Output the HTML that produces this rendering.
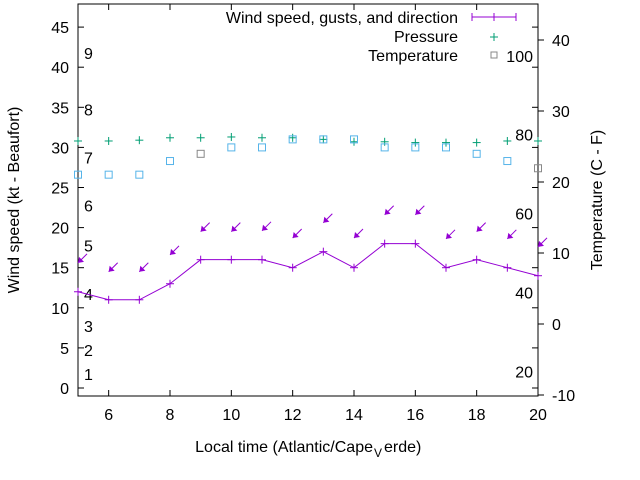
<!DOCTYPE html>
<html><head><meta charset="utf-8"><style>
body{margin:0;background:#fff}
svg{display:block;font-family:"Liberation Sans",sans-serif}
</style></head><body>
<svg id="c" width="640" height="480"></svg>
<script>
const hours=[5,6,7,8,9,10,11,12,13,14,15,16,17,18,19,20];
const windSpeed=[12,11,11,13,16,16,16,15,17,15,18,18,15,16,15,14];
const gusts=[15.6,14.5,14.5,16.6,19.5,19.5,19.6,18.7,20.6,18.7,21.6,21.6,18.6,19.5,18.6,17.6];
const pressure=[30.8,30.8,30.9,31.2,31.2,31.3,31.2,31.2,31.0,30.7,30.7,30.6,30.6,30.6,30.8,30.8];
const temperature=[26.6,26.6,26.6,28.3,29.2,30.0,30.0,31.0,31.0,31.0,30.0,30.0,30.0,29.2,28.3,27.4];
const leftTicks=[0,5,10,15,20,25,30,35,40,45];
const rightTicks=[-10,0,10,20,30,40];
const xTicks=[6,8,10,12,14,16,18,20];
const beaufort=[[1,1],[2,4],[3,7],[4,11],[5,17],[6,22],[7,28],[8,34],[9,41]];
const fahr=[20,40,60,80,100];
const L=78,R=538,T=4,B=396;
const X=v=>L+(v-5)/15*(R-L);
const Y=v=>388-v*8.02;
const YR=v=>324-v*7.1;
const svg=document.getElementById('c');
const NS='http://www.w3.org/2000/svg';
function mk(tag,at,parent){const e=document.createElementNS(NS,tag);for(const k in at)e.setAttribute(k,at[k]);(parent||svg).appendChild(e);return e;}
function txt(x,y,s,anchor,name,size){const t=mk('text',{x:x,y:y,'font-size':size||16,'text-anchor':anchor||'start',fill:'#000'});t.textContent=s;


return t;}
const fr=mk('rect',{x:L,y:T,width:R-L,height:B-T,fill:'none',stroke:'#000','stroke-width':1});


leftTicks.forEach(v=>{const y=Y(v);mk('line',{x1:L,x2:L+6,y1:y,y2:y,stroke:'#000'});mk('line',{x1:R,x2:R-6,y1:y,y2:y,stroke:'#000'});txt(L-9,y+6,String(v),'end','left-tick-label');});
rightTicks.forEach(v=>{const y=YR(v);mk('line',{x1:R,x2:R+6,y1:y,y2:y,stroke:'#000'});txt(552,y+6,String(v),'start','right-tick-label');});
xTicks.forEach(v=>{const x=X(v);mk('line',{x1:x,x2:x,y1:B,y2:B-6,stroke:'#000'});mk('line',{x1:x,x2:x,y1:T,y2:T+6,stroke:'#000'});txt(x,B+24,String(v),'middle','x-tick-label');});
beaufort.forEach(b=>txt(84,Y(b[1]),String(b[0]),'start','beaufort-label'));
fahr.forEach(f=>txt(533,YR((f-32)*5/9)+6,String(f),'end','fahrenheit-label'));
txt(373,452,'Local time (Atlantic/Cape','end','x-axis-title');
txt(374,457,'V','start','x-axis-title-sub',12);
txt(384,452,'erde)','start','x-axis-title-end');
const yl=txt(0,0,'Wind speed (kt - Beaufort)','middle','y-axis-title');yl.setAttribute('transform','translate(19,200) rotate(-90)');
const yr=txt(0,0,'Temperature (C - F)','middle','y2-axis-title');yr.setAttribute('transform','translate(602,200) rotate(-90)');
const pts=hours.map((h,i)=>X(h)+','+Y(windSpeed[i])).join(' ');
const pl=mk('polyline',{points:pts,fill:'none',stroke:'#9400d3','stroke-width':1});


function plus(x,y,c,name){const g=mk('g',{stroke:c,'stroke-width':1});mk('line',{x1:x-4,x2:x+4,y1:y,y2:y},g);mk('line',{x1:x,x2:x,y1:y-4,y2:y+4},g);

}
hours.forEach((h,i)=>plus(X(h),Y(windSpeed[i]),'#9400d3','wind-point'));
hours.forEach((h,i)=>{const x=X(h),y=Y(gusts[i]);const g=mk('g',{});


mk('line',{x1:x,y1:y,x2:x+9,y2:y-9,stroke:'#9400d3','stroke-width':1},g);
mk('polygon',{points:`${x},${y} ${x+6},${y-1} ${x+1},${y-6}`,fill:'#9400d3'},g);});
hours.forEach((h,i)=>plus(X(h),Y(pressure[i]),'#009e73','pressure-point'));
hours.forEach((h,i)=>{const s=mk('rect',{x:X(h)-3.5,y:Y(temperature[i])-3.5,width:7,height:7,fill:'none',stroke:(h===9||h===20)?'#888':'#56b4e9','stroke-width':1});

});
txt(458,23,'Wind speed, gusts, and direction','end','legend-wind');
mk('line',{x1:472,x2:516,y1:17,y2:17,stroke:'#9400d3'});
[472,494,516].forEach(x=>mk('line',{x1:x,x2:x,y1:13,y2:21,stroke:'#9400d3'}));
txt(458,42,'Pressure','end','legend-pressure');
plus(494,37,'#009e73','legend-pressure-marker');
txt(458,61,'Temperature','end','legend-temperature');
mk('rect',{x:491,y:52,width:6,height:6,fill:'none',stroke:'#888'});
</script>
</body></html>
